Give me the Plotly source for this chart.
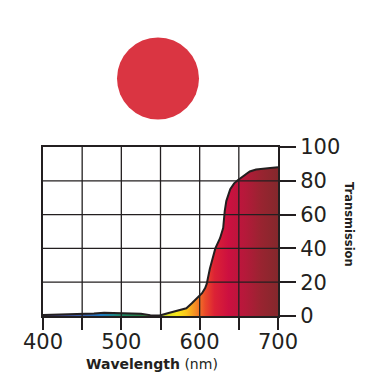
import plotly.graph_objects as go

# Data
wavelength = [400, 425, 450, 465, 478, 490, 500, 515, 525, 537, 549, 558, 566, 575,
              583, 590, 596, 603, 607, 609, 613, 617, 620, 626, 630, 632, 634, 639,
              644, 649, 656, 664, 672, 681, 690, 700]
transmission = [0.6, 0.8, 1.0, 1.5, 1.9, 1.8, 1.6, 1.6, 1.3, 0.5, 0.3, 1.5, 2.6, 3.6,
                4.6, 7.5, 10.0, 13.5, 16.5, 19.0, 28.0, 35.0, 40.0, 46.0, 52.0, 62.0, 68.0, 75.0,
                78.5, 80.5, 83.0, 85.5, 86.7, 87.3, 87.6, 88.0]

x_ticks = [400, 450, 500, 550, 600, 650, 700]
x_labels = ["400", "", "500", "", "600", "", "700"]
y_ticks = [0, 20, 40, 60, 80, 100]
y_labels = ["0", "20", "40", "60", "80", "100"]

spectrum = [
    [0.00, "#4a3f8f"], [0.17, "#3b5fa8"], [0.25, "#1a78c0"], [0.33, "#1d8a6a"],
    [0.42, "#2a7a45"], [0.49, "#8ab83a"], [0.53, "#d8dc28"], [0.57, "#f9e81a"],
    [0.61, "#fbc51b"], [0.65, "#f58a25"], [0.69, "#eb4a2a"], [0.73, "#dc2235"],
    [0.79, "#cc1040"], [0.86, "#b5193a"], [0.93, "#982430"], [1.00, "#84282c"],
]

INK = "#231f20"
FONT = "DejaVu Sans"

fig = go.Figure()
fig.add_trace(go.Scatter(
    x=wavelength, y=transmission, mode="lines",
    line=dict(color=INK, width=2),
    fill="tozeroy",
    fillgradient=dict(type="horizontal", colorscale=spectrum, start=400, stop=700),
    hoverinfo="skip", showlegend=False,
))

# grid lines above the fill
for v in x_ticks[1:-1]:
    fig.add_shape(type="line", xref="x", yref="paper", x0=v, x1=v, y0=0, y1=1,
                  line=dict(color=INK, width=1.3), layer="above")
for v in y_ticks[1:-1]:
    fig.add_shape(type="line", xref="paper", yref="y", x0=0, x1=1, y0=v, y1=v,
                  line=dict(color=INK, width=1.3), layer="above")

# colour swatch
fig.add_shape(type="circle", xref="paper", yref="paper",
              x0=(117 - 43) / 235, x1=(199 - 43) / 235,
              y0=(316 - 119.5) / 169, y1=(316 - 37.5) / 169,
              fillcolor="#da3542", line=dict(width=0), layer="above")

fig.update_xaxes(
    range=[400, 700], tickvals=x_ticks, ticktext=x_labels,
    showgrid=False, zeroline=False,
    showline=True, linecolor=INK, linewidth=2, mirror=True,
    ticks="outside", ticklen=12, tickwidth=2, tickcolor=INK,
    tickfont=dict(family=FONT, size=21, color=INK),
    ticklabelstandoff=-6,
    layer="above traces",
)
fig.update_yaxes(
    range=[0, 100], side="right", tickvals=y_ticks, ticktext=y_labels,
    showgrid=False, zeroline=False,
    showline=True, linecolor=INK, linewidth=2, mirror=True,
    ticks="outside", ticklen=16, tickwidth=1.5, tickcolor=INK,
    tickfont=dict(family=FONT, size=21, color=INK),
    layer="above traces",
)

fig.add_annotation(
    xref="paper", yref="paper", x=(152 - 43) / 235, y=(316 - 364) / 169,
    text="<b>Wavelength</b> (nm)", showarrow=False,
    font=dict(family=FONT, size=14, color=INK), xanchor="center", yanchor="middle",
)
fig.add_annotation(
    xref="paper", yref="paper", x=(349 - 43) / 235, y=(316 - 224) / 169,
    text="<b>Transmission</b>", showarrow=False, textangle=90,
    font=dict(family=FONT, size=11.5, color=INK), xanchor="center", yanchor="middle",
)

fig.update_layout(
    width=374, height=384,
    margin=dict(l=43, r=96, t=147, b=68, pad=0),
    paper_bgcolor="white", plot_bgcolor="white",
    showlegend=False,
)

fig.write_html("out.html")
